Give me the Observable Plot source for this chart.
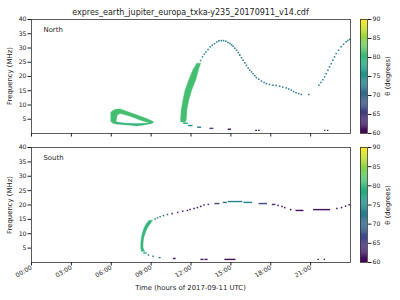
<!DOCTYPE html>
<html><head><meta charset="utf-8">
<script src="https://cdn.jsdelivr.net/npm/d3@7"></script>
<script src="https://cdn.jsdelivr.net/npm/@observablehq/plot@0.6"></script>
<style>
body{margin:0;background:#fff;font-family:"DejaVu Sans",sans-serif;}
#root{position:relative;width:400px;height:300px;overflow:hidden;background:#fff;}
.abs{position:absolute;}
.lbl{position:absolute;font-size:6.9px;color:#222;white-space:nowrap;}
.rot{transform:translate(-50%,-50%) rotate(-90deg);}
</style></head><body><div id="root"></div>
<script>
const title = "expres_earth_jupiter_europa_txka-y235_20170911_v14.cdf";
const xLabel = "Time (hours of 2017-09-11 UTC)";
const yLabel = "Frequency (MHz)";
const cLabel = "θ (degrees)";
const xTicks = [0, 3, 6, 9, 12, 15, 18, 21];
const yTicks = [5, 10, 15, 20, 25, 30, 35, 40];
const cbTicks = [60, 65, 70, 75, 80, 85, 90];

// North: 06-09h loop, upper branch (time h, low MHz, high MHz)
const loopUpT  = [6.0, 6.15, 6.35, 6.5, 6.7, 7.0, 7.45, 7.9, 8.4, 8.8, 9.05, 9.2];
const loopUpLo = [4.0, 3.4, 3.2, 6.3, 6.8, 6.5, 5.9, 5.1, 4.2, 3.7, 3.3, 3.6];
const loopUpHi = [7.3, 7.9, 8.3, 8.4, 8.45, 8.0, 7.2, 6.5, 5.6, 4.9, 4.4, 4.0];
// North loop lower branch
const loopLoT  = [6.35, 6.5, 7.0, 7.5, 7.95, 8.4, 8.8, 9.05];
const loopLoLo = [3.2, 3.1, 2.9, 2.7, 2.45, 2.7, 3.1, 3.3];
const loopLoHi = [4.1, 3.9, 3.5, 3.4, 3.3, 3.4, 3.5, 3.8];
// North rising band ~11-13h (freq, start h, end h)
const nBandF  = [3.9, 4.6, 8.1, 11.6, 15.2, 18.7, 22.2, 24.5];
const nBandT1 = [11.28, 11.25, 11.3, 11.43, 11.6, 11.87, 12.18, 12.47];
const nBandT2 = [11.6, 11.68, 11.73, 11.87, 12.1, 12.4, 12.6, 12.76];
// North thin arc (time h, freq MHz, theta deg)
const nT  = [12.72,12.87,13.0,13.12,13.28,13.45,13.6,13.77,13.93,14.1,14.28,14.45,14.62,14.78,14.93,15.05,15.17,15.3,15.42,15.55,15.67,15.8,15.92,16.05,16.17,16.3,16.42,16.55,16.67,16.8,16.92,17.1,17.3,17.5,17.67,17.9,18.17,18.4,18.67,18.9,19.17,19.35,19.55,19.72,19.9,20.1,20.3,20.87,21.62,21.77,21.92,22.05,22.17,22.3,22.42,22.55,22.67,22.8,22.92,23.1,23.3,23.48,23.67,23.8,23.93];
const nF  = [25.6,26.9,27.8,28.6,29.5,30.4,31.0,31.5,32.1,32.5,32.6,32.6,32.4,31.9,31.6,31.1,30.6,29.9,29.2,28.4,27.5,26.6,25.7,24.8,23.9,23.0,22.2,21.6,21.0,20.3,19.6,19.0,18.4,17.9,17.5,17.2,16.9,16.8,16.6,16.3,16.0,15.6,15.2,14.7,14.3,14.0,13.7,13.7,16.9,17.9,18.9,19.9,21.0,22.2,23.4,24.5,25.7,26.9,28.1,29.2,30.4,31.3,32.2,32.6,33.0];
const nTh = [76,75,75,74,74,74,73,73,73,72,72,72,72,72,72,72,72,72,72,72,72,72,72,72,72,72,72,72,72,72,72,72,72,72,72,72,72,72,72,72,72,72,72,72,72,72,72,72,73,73,73,73,73,73,73,73,73,73,73,73,73,73,73,73,73];
// North short segments (start h, end h, freq, theta)
const nSegT1 = [11.45, 11.8, 12.5, 13.43, 14.8, 16.87, 17.08, 22.05, 22.27];
const nSegT2 = [11.8, 12.15, 12.8, 13.72, 15.05, 17.0, 17.2, 22.15, 22.37];
const nSegF  = [3.6, 2.8, 2.2, 1.8, 1.5, 1.1, 1.1, 1.1, 1.1];
const nSegTh = [78, 75, 73, 66, 61, 61, 61, 61, 61];

// South band ~08-09h (freq, start h, end h)
const sBandF  = [3.7, 4.9, 6.6, 8.4, 10.1, 11.8, 13.4, 14.5];
const sBandT1 = [8.3, 8.26, 8.26, 8.3, 8.38, 8.5, 8.68, 8.88];
const sBandT2 = [8.55, 8.43, 8.43, 8.48, 8.6, 8.75, 8.98, 9.15];
// South thin arc points
const sT  = [8.8, 9.15, 9.3, 9.48, 9.68, 9.93, 10.23, 10.58, 11.0, 11.38, 11.73, 11.93, 12.23, 12.48, 12.73, 12.98, 13.3, 18.55, 18.85, 19.05, 19.5, 22.98, 23.33, 23.63, 23.9];
const sF  = [2.6, 2.2, 15.1, 15.5, 15.9, 16.3, 16.7, 17.0, 17.4, 17.8, 18.1, 18.4, 18.8, 19.1, 19.5, 20.0, 20.2, 19.8, 19.5, 19.1, 18.4, 18.8, 19.1, 19.6, 20.1];
const sTh = [74, 73, 74, 74, 74, 72, 69, 66, 64, 63, 62, 61, 61, 61, 61, 63, 64, 62, 61, 61, 61, 61, 61, 61, 61];
// South short segments
const sSegT1 = [8.45, 9.6, 10.68, 12.75, 13.05, 14.55, 21.55, 22.02, 13.8, 14.43, 14.8, 15.98, 17.12, 18.12, 19.9, 21.22];
const sSegT2 = [8.7, 9.75, 10.88, 12.98, 13.28, 15.38, 21.65, 22.12, 14.18, 14.73, 15.9, 16.62, 17.75, 18.38, 20.5, 22.5];
const sSegF  = [3.3, 1.7, 1.4, 1.07, 1.07, 1.07, 1.07, 1.07, 20.5, 20.9, 21.2, 20.9, 20.5, 20.2, 18.1, 18.4];
const sSegTh = [78, 73, 61, 61, 61, 61, 61, 61, 66, 70, 73, 73, 67, 64, 61, 61];

const color = {type: "linear", scheme: "viridis", domain: [60, 90]};
const fmtH = h => String(h).padStart(2, "0") + ":00";
const rows = (o) => { const k = Object.keys(o); return o[k[0]].map((_, i) => Object.fromEntries(k.map(n => [n, o[n][i]]))); };
const root = document.getElementById("root");
const FONT = {fontFamily: "DejaVu Sans, sans-serif", fontSize: "6.2px", color: "#222", background: "transparent", overflow: "visible"};

function place(el, left, top) { el.classList.add("abs"); el.style.left = left + "px"; el.style.top = top + "px"; root.appendChild(el); }

function panel(cfg) {
  const marks = [];
  for (const b of cfg.bandsY) marks.push(Plot.areaY(b.data, {x: "t", y1: "lo", y2: "hi", fill: () => b.th, stroke: () => b.th, strokeWidth: 0.3}));
  for (const b of cfg.bandsX) marks.push(Plot.areaX(b.data, {y: "f", x1: "t1", x2: "t2", fill: () => b.th, stroke: () => b.th, strokeWidth: 0.4}));
  marks.push(Plot.ruleY(cfg.segs, {y: "f", x1: "t1", x2: "t2", stroke: "th", strokeWidth: 1.4}));
  marks.push(Plot.dot(cfg.dots, {x: "t", y: "f", fill: "th", symbol: "square", r: 0.85}));
  marks.push(Plot.frame({stroke: "#333", strokeWidth: 0.8}));
  marks.push(Plot.axisY({ticks: yTicks, tickSize: 3.5, tickPadding: 1.5, label: null}));
  if (cfg.showX) marks.push(Plot.axisX({ticks: xTicks, tickSize: 3.5, tickRotate: -30, tickPadding: 1, tickFormat: fmtH, label: null}));
  else marks.push(Plot.axisX({ticks: xTicks, tickSize: 3.5, tickFormat: () => "", label: null}));
  marks.push(Plot.text([cfg.name], {frameAnchor: "top-left", dx: 12, dy: 8, fontSize: 6.9, fill: "#222", textAnchor: "start"}));
  return Plot.plot({
    width: 400, height: cfg.h, marginLeft: 31, marginRight: 50, marginTop: cfg.mt, marginBottom: cfg.mb,
    x: {domain: [0, 24]}, y: {domain: [0, 40]}, color, style: FONT, marks
  });
}

function colorbar(h, mt, mb) {
  const vals = d3.range(60, 90, 0.25);
  return Plot.plot({
    width: 45, height: h, marginLeft: 5, marginRight: 33, marginTop: mt, marginBottom: mb,
    x: {domain: [0, 1], axis: null}, y: {domain: [60, 90]}, color, style: FONT,
    marks: [
      Plot.rect(vals, {x1: 0, x2: 1, y1: d => d, y2: d => d + 0.3, fill: d => d + 0.125}),
      Plot.frame({stroke: "#333", strokeWidth: 0.8}),
      Plot.axisY({anchor: "right", ticks: cbTicks, tickSize: 3.5, tickPadding: 1.5, label: null})
    ]
  });
}

const north = panel({
  h: 140, mt: 19, mb: 7, name: "North", showX: false,
  bandsY: [
    {th: 81, data: rows({t: loopUpT, lo: loopUpLo, hi: loopUpHi})},
    {th: 80, data: rows({t: loopLoT, lo: loopLoLo, hi: loopLoHi})}
  ],
  bandsX: [{th: 81, data: rows({f: nBandF, t1: nBandT1, t2: nBandT2})}],
  dots: rows({t: nT, f: nF, th: nTh}),
  segs: rows({t1: nSegT1, t2: nSegT2, f: nSegF, th: nSegTh})
});
const south = panel({
  h: 160, mt: 7, mb: 38, name: "South", showX: true,
  bandsY: [],
  bandsX: [{th: 80, data: rows({f: sBandF, t1: sBandT1, t2: sBandT2})}],
  dots: rows({t: sT, f: sF, th: sTh}),
  segs: rows({t1: sSegT1, t2: sSegT2, f: sSegF, th: sSegTh})
});
place(north, 0, 0);
place(south, 0, 140);
place(colorbar(140, 19, 7), 355, 0);
place(colorbar(160, 7, 38), 355, 140);

function label(text, x, y, rot, size) {
  const d = document.createElement("div");
  d.className = "lbl" + (rot ? " rot" : "");
  d.textContent = text;
  d.style.left = x + "px"; d.style.top = y + "px";
  if (size) d.style.fontSize = size + "px";
  if (!rot) d.style.transform = "translate(-50%,-50%)";
  root.appendChild(d);
}
label(title, 190.5, 11.5, false, 8);
label(xLabel, 190.5, 288, false);
label(yLabel, 10, 76, true);
label(yLabel, 10, 204.5, true);
label(cLabel, 388, 76, true);
label(cLabel, 388, 204.5, true);
</script></body></html>
